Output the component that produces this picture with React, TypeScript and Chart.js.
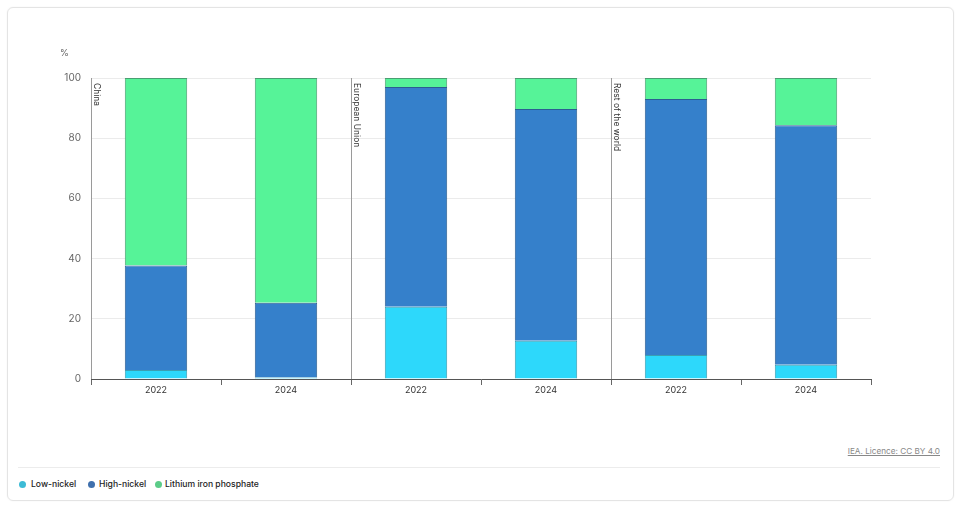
import React, { useEffect, useRef } from "react";
import { Chart, registerables } from "chart.js";

Chart.register(...registerables);

const categories = ["2022", "2024", "2022", "2024", "2022", "2024"];
const regions = ["China", "European Union", "Rest of the world"];
const lowNickel = [3, 0.5, 24, 12.7, 8, 4.7];
const highNickel = [34.7, 24.8, 73, 77, 85, 79.6];
const lfp = [62.3, 74.7, 3, 10.3, 7, 15.7];
const yTicks = [0, 20, 40, 60, 80, 100];

const FONT = "Inter, 'Noto Sans', sans-serif";

const regionPlugin = {
  id: "regionPlugin",
  afterDatasetsDraw(chart: any) {
    const { ctx, chartArea, scales } = chart;
    const x = scales.x;
    const half = (x.getPixelForTick(1) - x.getPixelForTick(0)) / 2;
    ctx.save();
    regions.forEach((name, i) => {
      const px = Math.round(x.getPixelForTick(i * 2) - half) + 0.5;
      ctx.strokeStyle = "#9a9a9a";
      ctx.lineWidth = 1;
      ctx.beginPath();
      ctx.moveTo(px, chartArea.top);
      ctx.lineTo(px, chartArea.bottom);
      ctx.stroke();
      ctx.save();
      ctx.translate(px + 9, chartArea.top + 5);
      ctx.rotate(Math.PI / 2);
      ctx.fillStyle = "#333";
      ctx.font = `8.5px ${FONT}`;
      ctx.textBaseline = "top";
      ctx.textAlign = "left";
      ctx.fillText(name, 0, 0);
      ctx.restore();
    });
    ctx.restore();
  },
};

export default function App() {
  const ref = useRef<HTMLCanvasElement>(null);
  useEffect(() => {
    if (!ref.current) return;
    const chart = new Chart(ref.current, {
      type: "bar",
      data: {
        labels: categories,
        datasets: [
          { label: "Low-nickel", data: lowNickel, backgroundColor: "#2dd8fb", borderColor: "#3a9fb3", borderWidth: 1 },
          { label: "High-nickel", data: highNickel, backgroundColor: "#3580cb", borderColor: "#2c5e92", borderWidth: 1 },
          { label: "Lithium iron phosphate", data: lfp, backgroundColor: "#56f398", borderColor: "#4a9e72", borderWidth: 1 },
        ],
      },
      options: {
        animation: false,
        responsive: false,
        maintainAspectRatio: false,
        layout: { padding: { top: 78, right: 89, bottom: 11, left: 0 } },
        plugins: { legend: { display: false }, tooltip: { enabled: false } },
        datasets: { bar: { barPercentage: 0.48, categoryPercentage: 1 } },
        scales: {
          x: {
            stacked: true,
            grid: { display: true, drawOnChartArea: false, tickLength: 6, color: "#666", offset: true },
            border: { display: true, color: "#555", width: 1 },
            ticks: { color: "#333", font: { family: FONT, size: 9 }, padding: 0, maxRotation: 0 },
            afterFit(s: any) { s.height = 30; },
          },
          y: {
            stacked: true,
            min: 0,
            max: 100,
            afterBuildTicks(s: any) { s.ticks = yTicks.map((v) => ({ value: v })); },
            grid: { color: "#ebebeb", drawTicks: false },
            border: { display: false },
            ticks: { color: "#666", font: { family: FONT, size: 10 }, padding: 10 },
            afterFit(s: any) { s.width = 91; },
          },
        },
      },
      plugins: [regionPlugin],
    });
    return () => chart.destroy();
  }, []);

  const legend = [
    { label: "Low-nickel", color: "#3dbbd6", x: 19, tx: 31 },
    { label: "High-nickel", color: "#3f70ad", x: 88, tx: 99 },
    { label: "Lithium iron phosphate", color: "#5ccc88", x: 155, tx: 165 },
  ];

  return (
    <div style={{ position: "fixed", left: 0, top: 0, width: 960, height: 506, background: "#fff", fontFamily: FONT }}>
      <div style={{ position: "absolute", left: 7, top: 7, width: 945, height: 492, border: "1px solid #e4e4e4", borderRadius: 6, boxShadow: "0 0 2px rgba(0,0,0,0.05)" }} />
      <canvas ref={ref} width={960} height={420} style={{ position: "absolute", left: 0, top: 0, width: 960, height: 420 }} />
      <div style={{ position: "absolute", left: 60, top: 47, fontSize: 9, color: "#666" }}>%</div>
      <div style={{ position: "absolute", right: 20, top: 446, fontSize: 8.2, color: "#888", textDecoration: "underline" }}>IEA. Licence: CC BY 4.0</div>
      <div style={{ position: "absolute", left: 18, top: 467, width: 922, height: 1, background: "#ececec" }} />
      {legend.map((l) => (
        <React.Fragment key={l.label}>
          <div style={{ position: "absolute", left: l.x, top: 481, width: 7, height: 7, borderRadius: "50%", background: l.color }} />
          <div style={{ position: "absolute", left: l.tx, top: 478.5, fontSize: 8.6, fontWeight: 500, color: "#222", whiteSpace: "nowrap" }}>{l.label}</div>
        </React.Fragment>
      ))}
    </div>
  );
}
